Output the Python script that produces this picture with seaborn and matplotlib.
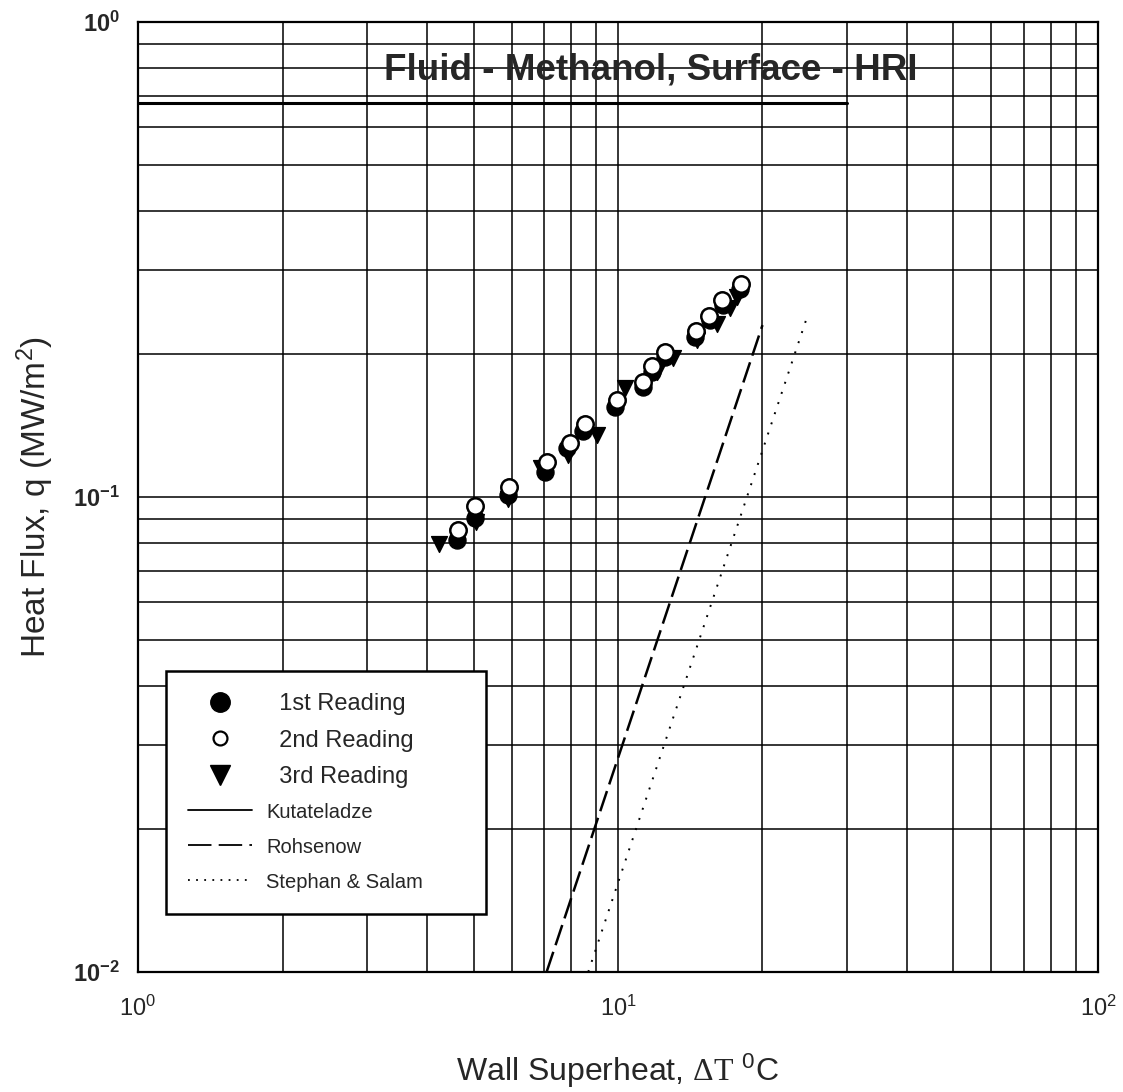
import matplotlib
matplotlib.use("Agg")
import matplotlib.pyplot as plt
from matplotlib.lines import Line2D
import pandas as pd
import seaborn as sns

# Pool boiling of methanol on the HRI surface: three repeated readings
dT_1 = [4.63, 5.04, 5.89, 7.05, 7.82, 8.45, 9.86, 11.29, 11.75, 12.53, 14.47, 15.55, 16.57, 17.96]
q_1 = [0.0810, 0.0903, 0.1010, 0.1131, 0.1266, 0.1377, 0.1547, 0.1704, 0.1836, 0.1971, 0.2175, 0.2358, 0.2536, 0.2741]

dT_2 = [4.64, 5.04, 5.93, 7.10, 7.93, 8.54, 9.94, 11.30, 11.80, 12.53, 14.54, 15.50, 16.51, 18.00]
q_2 = [0.0854, 0.0955, 0.1052, 0.1182, 0.1296, 0.1421, 0.1600, 0.1748, 0.1887, 0.2022, 0.2236, 0.2410, 0.2593, 0.2808]

dT_3 = [4.24, 5.06, 5.90, 6.91, 7.85, 9.05, 10.34, 12.06, 13.02, 14.59, 16.08, 17.11, 17.74]
q_3 = [0.0798, 0.0886, 0.0990, 0.1153, 0.1226, 0.1351, 0.1692, 0.1833, 0.1957, 0.2136, 0.2313, 0.2495, 0.2641]

# Correlations (straight lines on log-log axes, given by their end points)
kut_dT = [1.0, 30.0]
kut_q = [0.675, 0.675]
roh_dT = [7.10, 20.0]
roh_q = [0.010, 0.230]
ss_dT = [8.67, 24.9]
ss_q = [0.010, 0.243]

x_ticks = [1, 10, 100]
x_ticklabels = [r"$\mathdefault{10^{0}}$", r"$\mathdefault{10^{1}}$", r"$\mathdefault{10^{2}}$"]
y_ticks = [0.01, 0.1, 1]
y_ticklabels = [r"$\mathbf{10^{-2}}$", r"$\mathbf{10^{-1}}$", r"$\mathbf{10^{0}}$"]

legend_labels = ["  1st Reading", "  2nd Reading", "  3rd Reading",
                 "Kutateladze", "Rohsenow", "Stephan & Salam"]

sns.set_style("white")
plt.rcParams["font.family"] = ["Liberation Sans", "DejaVu Sans"]
plt.rcParams["mathtext.fontset"] = "custom"
plt.rcParams["mathtext.rm"] = "Liberation Serif"
plt.rcParams["mathtext.it"] = "Liberation Serif:italic"
plt.rcParams["mathtext.bf"] = "Liberation Sans:bold"
plt.rcParams["mathtext.default"] = "regular"

fig = plt.figure(figsize=(11.23, 10.92), dpi=100)
ax = fig.add_axes([0.1229, 0.1099, 0.8548, 0.8700])
ax.set_xscale("log")
ax.set_yscale("log")
ax.set_xlim(1, 100)
ax.set_ylim(0.01, 1)

ax.set_axisbelow(True)
ax.grid(True, which="both", color="black", linewidth=1.1)

line_df = lambda x, y: pd.DataFrame({"dT": x, "q": y})
sns.lineplot(data=line_df(kut_dT, kut_q), x="dT", y="q", ax=ax, color="black",
             linewidth=2.2, linestyle="-", zorder=2, estimator=None, sort=False)
sns.lineplot(data=line_df(roh_dT, roh_q), x="dT", y="q", ax=ax, color="black",
             linewidth=1.8, linestyle=(0, (8.5, 2.8)), zorder=2, estimator=None, sort=False)
sns.lineplot(data=line_df(ss_dT, ss_q), x="dT", y="q", ax=ax, color="black",
             linewidth=1.4, linestyle=(0, (1, 4.5)), zorder=2, estimator=None, sort=False)

sns.scatterplot(x=dT_1, y=q_1, ax=ax, marker="o", s=150, color="black",
                edgecolor="black", linewidth=1.0, zorder=3)
sns.scatterplot(x=dT_3, y=q_3, ax=ax, marker="v", s=130, color="black",
                edgecolor="black", linewidth=1.0, zorder=4)
sns.scatterplot(x=dT_2, y=q_2, ax=ax, marker="o", s=140, color="white",
                edgecolor="black", linewidth=1.8, zorder=5)

ax.set_xticks(x_ticks)
ax.set_xticklabels(x_ticklabels)
ax.set_yticks(y_ticks)
ax.set_yticklabels(y_ticklabels)
ax.tick_params(axis="x", which="major", direction="out", length=7, width=1.3,
               pad=10, labelsize=17)
ax.tick_params(axis="y", which="major", direction="out", length=6, width=1.3,
               pad=7, labelsize=17)
ax.tick_params(which="minor", length=0)
for sp in ax.spines.values():
    sp.set_color("black")
    sp.set_linewidth(1.6)

ax.set_xlabel("")
ax.set_ylabel("")

ax.text(0.534, 0.939, "Fluid - Methanol, Surface - HRI", transform=ax.transAxes,
        ha="center", va="baseline", fontsize=26.5, fontweight="bold", zorder=6)

fig.text(0.5503, 0.010, r"Wall Superheat, $\mathrm{\Delta T}$ $^{0}$C",
         ha="center", va="baseline", fontsize=23)
fig.text(0.031, 0.5449, r"Heat Flux, q (MW/m$^{2}$)", rotation=90,
         ha="center", va="center", fontsize=24)

handles = [
    Line2D([], [], marker="o", ls="none", color="black", ms=14),
    Line2D([], [], marker="o", ls="none", mfc="white", mec="black", mew=1.6, ms=10),
    Line2D([], [], marker="v", ls="none", color="black", ms=14),
    Line2D([], [], color="black", lw=1.3, ls="-"),
    Line2D([], [], color="black", lw=1.3, ls=(0, (13, 4))),
    Line2D([], [], color="black", lw=1.3, ls=(0, (1, 3.5))),
]
leg = ax.legend(handles, legend_labels, loc="upper left",
                bbox_to_anchor=(0.0292, 0.0600, 0.3333, 0.2568), mode="expand",
                borderaxespad=0, fontsize=17, frameon=True, fancybox=False,
                edgecolor="black", framealpha=1, handlelength=2.7,
                handletextpad=0.6, labelspacing=0.6, borderpad=0.95)
leg.get_frame().set_linewidth(1.8)
leg.set_zorder(10)
for t in leg.get_texts()[3:]:
    t.set_fontsize(14.5)

fig.savefig("out.png", dpi=100)
